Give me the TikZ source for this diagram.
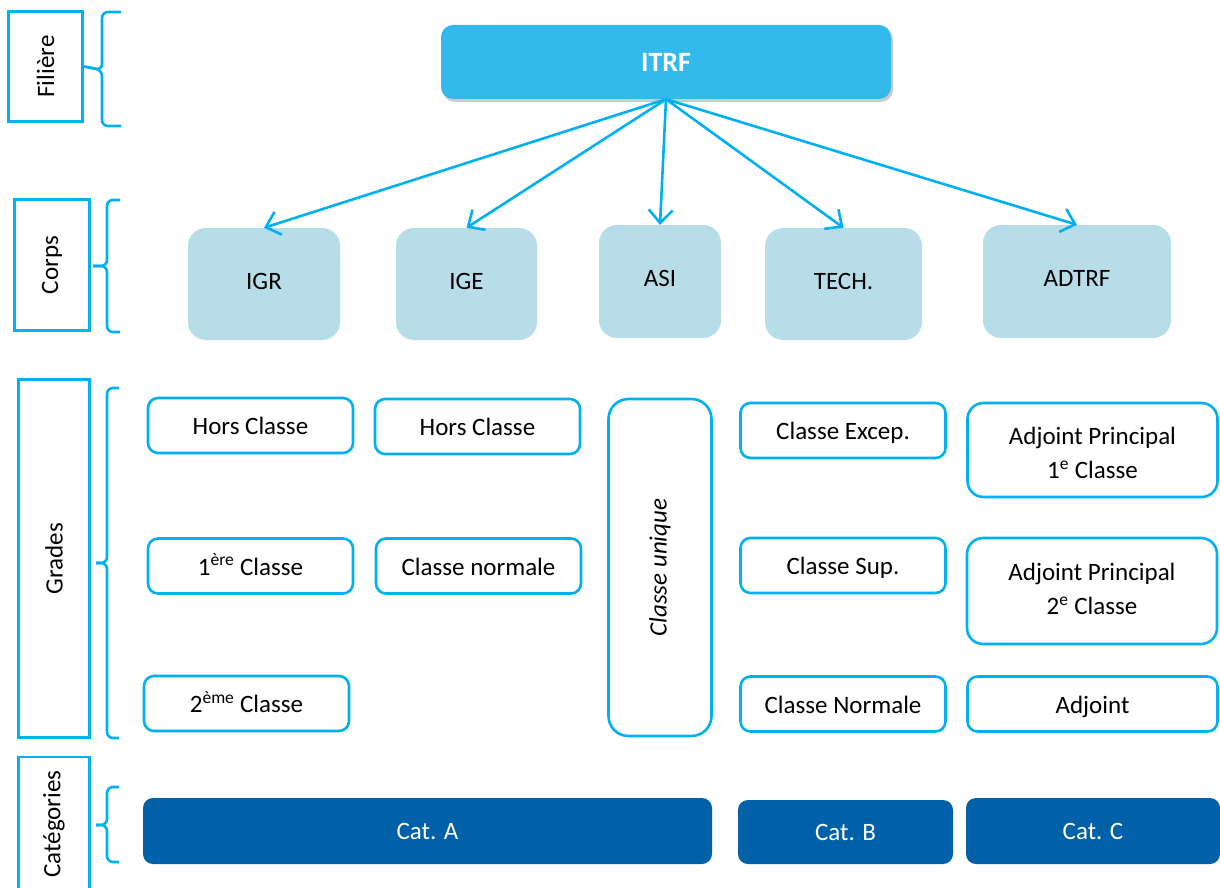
\documentclass[tikz,border=0pt]{standalone}
\usepackage{fontspec}
\setmainfont{Carlito}
\usetikzlibrary{arrows.meta,shadows}
\definecolor{lineblue}{HTML}{00B0F0}
\definecolor{itrfblue}{HTML}{33B9EB}
\definecolor{corpsblue}{HTML}{B7DEE8}
\definecolor{catblue}{HTML}{0060A8}
\tikzset{
  sz/.style 2 args={minimum width=#1pt, minimum height=#2pt},
  lbl/.style={draw=lineblue, line width=2.6pt, inner sep=0pt, font=\fontsize{25}{30}\selectfont, rotate=90},
  brace/.style={draw=lineblue, line width=2.6pt, rounded corners=6pt},
  itrfbox/.style={fill=itrfblue, rounded corners=12pt, inner sep=0pt, text=white,
    font=\fontsize{28}{32}\selectfont\bfseries, drop shadow={shadow xshift=2pt, shadow yshift=-3pt, opacity=0.2, fill=black}},
  corpsbox/.style={fill=corpsblue, rounded corners=18pt, inner sep=0pt, text height=14pt, text depth=4pt,
    font=\fontsize{25}{30}\selectfont},
  gbox/.style={draw=lineblue, line width=2.6pt, rounded corners=10pt, inner sep=0pt, align=center,
    font=\fontsize{25}{34}\selectfont},
  gone/.style={gbox, text height=18pt, text depth=0pt},
  gtxt/.style={align=center, inner sep=0pt, font=\fontsize{25}{34}\selectfont},
  catbox/.style={fill=catblue, rounded corners=10pt, inner sep=0pt, text=white, text height=18pt, text depth=2pt,
    font=\fontsize{25}{30}\selectfont},
  arr/.style={draw=lineblue, line width=2.6pt, -{Straight Barb[length=13pt,width=24pt,line width=2.6pt]}}
}
\begin{document}
\begin{tikzpicture}[x=1pt,y=-1pt]
\useasboundingbox (0,0) rectangle (1220,888);
% left labels (rotated: width<->height)
\node[lbl, sz={110}{74}] (fil) at (45.5,66.5) {Filière};
\node[lbl, sz={131}{75}] (cor) at (52,265) {Corps};
\node[lbl, sz={358}{71}] (gra) at (54,558.5) {Grades};
\node[lbl, sz={134}{71}] (cat) at (54,824) {Catégories};
% braces
\coordinate (fb1) at (121,12); \coordinate (fb2) at (121,126);
\draw[brace] (fb1) -- (102,12) -- (102,70) -- (fil.south);
\draw[brace] (fil.south) -- (102,70) -- (102,126) -- (fb2);
\coordinate (cb1) at (120,200); \coordinate (cb2) at (120,332); \coordinate (ct) at (93,266);
\draw[brace] (cb1) -- (107,200) -- (107,266) -- (ct);
\draw[brace] (ct) -- (107,266) -- (107,332) -- (cb2);
\coordinate (gb1) at (119,388); \coordinate (gb2) at (119,738); \coordinate (gt) at (96,563);
\draw[brace] (gb1) -- (107,388) -- (107,563) -- (gt);
\draw[brace] (gt) -- (107,563) -- (107,738) -- (gb2);
\coordinate (kb1) at (119,787); \coordinate (kb2) at (119,862); \coordinate (kt) at (96,825);
\draw[brace] (kb1) -- (107,787) -- (107,825) -- (kt);
\draw[brace] (kt) -- (107,825) -- (107,862) -- (kb2);
% top
\node[itrfbox, sz={450}{74}] (itrf) at (666,62) {ITRF};
% corps
\node[corpsbox, sz={152}{112}] (igr) at (264,284) {IGR};
\node[corpsbox, sz={141}{112}] (ige) at (466.5,284) {IGE};
\node[corpsbox, sz={122}{113}] (asi) at (660,281.5) {ASI};
\node[corpsbox, sz={157}{112}] (tech) at (843.5,284) {TECH.};
\node[corpsbox, sz={188}{113}] (adtrf) at (1077,281.5) {ADTRF};
\foreach \t in {igr,ige,asi,tech,adtrf} \draw[arr] (itrf.south) -- (\t.north);
% grades
\node[gone, sz={205}{55}] (hc1) at (250.5,425.5) {Hors Classe};
\node[gone, sz={205}{55}] (hc2) at (477.5,426.5) {Hors Classe};
\node[gone, sz={205}{55}] (c1) at (250.5,566) {1\textsuperscript{ère} Classe};
\node[gone, sz={205}{55}] (cn) at (478.5,566) {Classe normale};
\node[gone, sz={205}{55}] (c2) at (246.5,703.5) {2\textsuperscript{ème} Classe};
\node[gbox, rounded corners=20pt, sz={103}{337}] (cu) at (660,567.5) {};
\node[rotate=90, font=\fontsize{25}{30}\selectfont\itshape] (cut) at (cu.center) {Classe unique};
\node[gone, sz={205}{55}] (ce) at (843,430.5) {Classe Excep.};
\node[gbox, rounded corners=16pt, sz={250}{94}] (ap1) at (1092.5,450) {};
\node[gtxt] (ap1t) at ([yshift=-3pt]ap1.center) {Adjoint Principal\\1\textsuperscript{e} Classe};
\node[gone, sz={205}{55}] (cs) at (843,565.5) {Classe Sup.};
\node[gbox, rounded corners=16pt, sz={250}{106}] (ap2) at (1092,591) {};
\node[gtxt] (ap2t) at ([yshift=2.5pt]ap2.center) {Adjoint Principal\\2\textsuperscript{e} Classe};
\node[gone, sz={205}{55}] (cnn) at (843,704) {Classe Normale};
\node[gone, sz={250}{55}] (adj) at (1092.5,704) {Adjoint};
% categories
\node[catbox, sz={569}{66}] (ca) at (427.5,831) {Cat. A};
\node[catbox, sz={215}{64}] (cb) at (845.5,832) {Cat. B};
\node[catbox, sz={254}{66}] (cc) at (1093,831) {Cat. C};
\end{tikzpicture}
\end{document}
